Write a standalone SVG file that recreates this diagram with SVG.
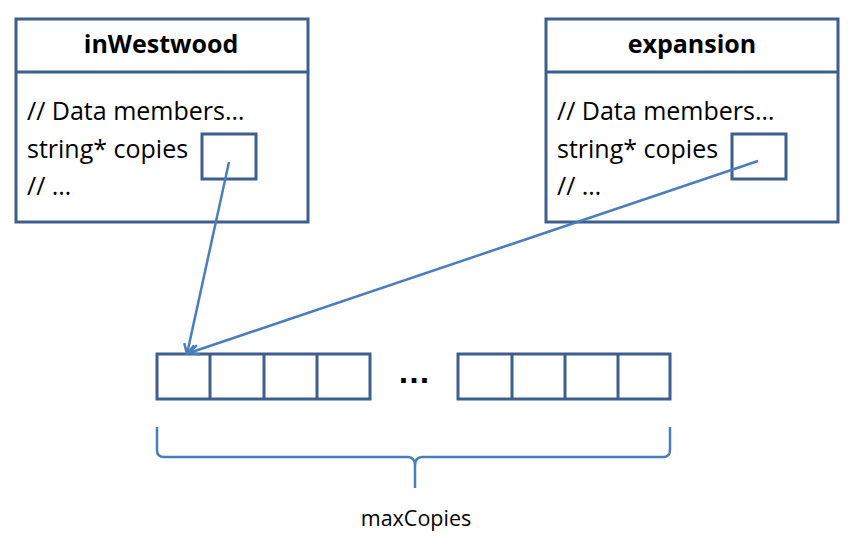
<svg xmlns="http://www.w3.org/2000/svg" width="857" height="546" viewBox="0 0 857 546">
<defs>
<style>
.box{fill:#fff;stroke:#3c5f8e;stroke-width:3}
.cell{fill:none;stroke:#3c5f8e;stroke-width:3}
.t{font-family:"Open Sans","Liberation Sans",Arial,sans-serif;font-size:25px;fill:#000}
.b{font-weight:bold;text-anchor:middle;font-size:25px}
.c{stroke:#4a7ebb;stroke-width:2.5;fill:none}
</style>
<marker id="ah" viewBox="0 0 12 12" refX="11" refY="6" markerWidth="12" markerHeight="12" markerUnits="userSpaceOnUse" orient="auto">
<path d="M1,1 L11,6 L1,11" fill="none" stroke="#4a7ebb" stroke-width="2.5"/>
</marker>
</defs>
<rect width="857" height="546" fill="#fff"/>
<g id="inWestwood">
<rect class="box" x="16" y="19" width="292" height="203"/>
<line class="cell" x1="16" y1="72" x2="308" y2="72"/>
<text class="t b" x="161" y="53">inWestwood</text>
<text class="t" x="27" y="120">// Data members…</text>
<text class="t" x="27" y="158">string* copies</text>
<text class="t" x="27" y="195">// …</text>
<rect class="cell" x="202" y="134" width="54" height="45"/>
</g>
<g id="expansion">
<rect class="box" x="546" y="19" width="292" height="203"/>
<line class="cell" x1="546" y1="72" x2="838" y2="72"/>
<text class="t b" x="692" y="53">expansion</text>
<text class="t" x="557" y="120">// Data members…</text>
<text class="t" x="557" y="158">string* copies</text>
<text class="t" x="557" y="195">// …</text>
<rect class="cell" x="732" y="134" width="54" height="45"/>
</g>
<g id="array">
<rect class="cell" x="157" y="354" width="213" height="45"/>
<line class="cell" x1="210" y1="354" x2="210" y2="399"/>
<line class="cell" x1="264" y1="354" x2="264" y2="399"/>
<line class="cell" x1="317" y1="354" x2="317" y2="399"/>
<rect class="cell" x="458" y="354" width="212" height="45"/>
<line class="cell" x1="512" y1="354" x2="512" y2="399"/>
<line class="cell" x1="565" y1="354" x2="565" y2="399"/>
<line class="cell" x1="618" y1="354" x2="618" y2="399"/>
<text x="414" y="383" text-anchor="middle" font-family="Liberation Sans, Arial, sans-serif" font-size="33" font-weight="bold">…</text>
</g>
<g id="brace">
<path class="c" d="M157,427 L157,450 Q157,457 164,457 L408,457 Q415,457 415,466 L415,488 M415,466 Q415,457 422,457 L663,457 Q670,457 670,450 L670,427"/>
<text class="t" x="416" y="526" style="text-anchor:middle;font-size:21.5px">maxCopies</text>
</g>
<g id="connectors">
<line class="c" x1="229" y1="162" x2="187" y2="354" marker-end="url(#ah)"/>
<line class="c" x1="758" y1="161" x2="189" y2="353" marker-end="url(#ah)"/>
</g>
</svg>
